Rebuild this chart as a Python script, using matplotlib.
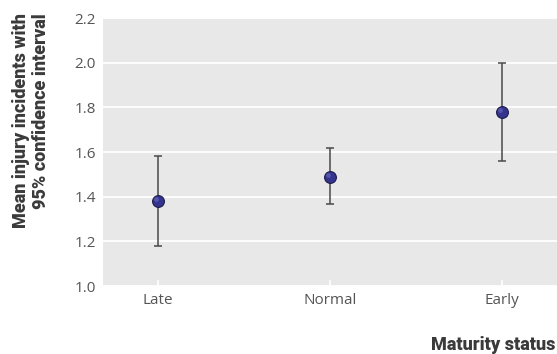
import numpy as np
import matplotlib
matplotlib.use('Agg')
import matplotlib.pyplot as plt

categories = ['Late', 'Normal', 'Early']
means = [1.38, 1.49, 1.78]
ci_low = [1.18, 1.365, 1.56]
ci_high = [1.58, 1.62, 2.0]
yticks = [1.0, 1.2, 1.4, 1.6, 1.8, 2.0, 2.2]

plt.rcParams['font.family'] = ['Open Sans', 'DejaVu Sans']

fig = plt.figure(figsize=(5.57, 3.54), dpi=100)
ax = fig.add_axes([103 / 557, 1 - 286 / 354, 454 / 557, 268 / 354])
ax.set_facecolor('#e8e8e8')

x = np.arange(len(categories))
means = np.array(means)
err = [means - np.array(ci_low), np.array(ci_high) - means]
ax.errorbar(x, means, yerr=err, fmt='none', ecolor='#4a4a4a',
            elinewidth=1.1, capsize=3, capthick=1.1, zorder=3)
ax.plot(x, means, 'o', markersize=8.5, markerfacecolor='#34348f',
        markeredgecolor='#1c1c4a', markeredgewidth=0.8, zorder=4)
# small highlight so the dots look a little round
ax.plot(x - 0.012, means + 0.008, 'o', markersize=3.5, color='#6a6ac0',
        markeredgewidth=0, alpha=0.6, zorder=5)

ax.set_xlim(-0.32, 2.32)
ax.set_ylim(1.0, 2.2)
ax.set_xticks(x)
ax.set_xticklabels(categories)
ax.set_yticks(yticks)
ax.set_yticklabels([f'{v:.1f}' for v in yticks])
ax.grid(True, axis='y', color='white', linewidth=1.3)
ax.set_axisbelow(True)
for s in ax.spines.values():
    s.set_visible(False)

ax.tick_params(axis='x', direction='in', length=4, color='white', width=1.2,
               labelsize=11, labelcolor='#555555', pad=5)
ax.tick_params(axis='y', length=0, labelsize=11, labelcolor='#555555', pad=5)

bold = dict(family=['Roboto', 'DejaVu Sans'], fontweight='black', color='#3a3a3a')
fig.text(555 / 557, 1 - 345 / 354, 'Maturity status', ha='right', va='center',
         fontsize=13, **bold)
fig.text(31 / 557, 1 - 13 / 354, 'Mean injury incidents with\n95% confidence interval',
         rotation=90, ha='center', va='top', multialignment='right',
         fontsize=13, linespacing=1.1, **bold)

plt.savefig('out.png', dpi=100)
plt.close()
